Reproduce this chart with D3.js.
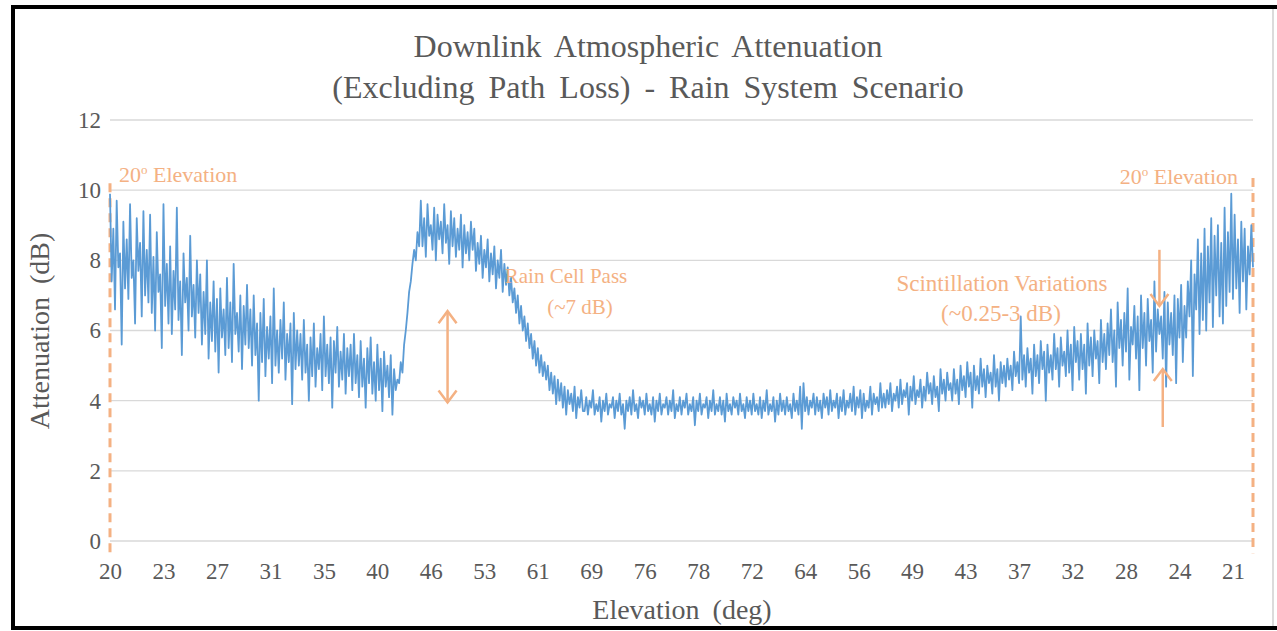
<!DOCTYPE html>
<html>
<head>
<meta charset="utf-8">
<script src="https://cdn.jsdelivr.net/npm/d3@7.9.0/dist/d3.min.js"></script>
<style>
  body { margin: 0; background: #fff; }
</style>
</head>
<body>
<svg id="chart" width="1277" height="631"></svg>
<script>
// Elevation labels along the pass (one label every 32 samples)
const elevationLabels = ['20', '23', '27', '31', '35', '40', '46', '53', '61', '69', '76',
  '78', '72', '64', '56', '49', '43', '37', '32', '28', '24', '21'];
const labelStep = 32;

const yTicks = [0, 2, 4, 6, 8, 10, 12];

// Attenuation samples (dB)
const attenuation = [
  // low elevation, start of pass
  9.9, 7.4, 8.9, 6.6, 9.7, 7.8, 8.2, 5.6, 9.1, 7.2, 8.6, 6.9, 9.6, 7.5, 8.0, 6.2, 9.2, 7.7, 8.5, 6.4, 9.4, 7.0, 8.3, 6.8,
  9.3, 6.5, 8.1, 6.0, 8.8, 7.1, 7.6, 5.5, 9.6, 6.7, 7.9, 6.2, 8.4, 5.9, 7.7, 6.6, 9.5, 6.3, 7.4, 5.3, 8.2, 6.8, 7.5, 6.0, 8.7, 6.4, 7.3, 5.8, 8.0, 6.5,
  7.6, 5.6, 7.1, 5.9, 8.0, 5.2, 6.8, 5.7, 7.4, 5.4, 6.9, 4.8, 7.2, 5.8, 6.6, 5.3, 7.5, 5.5, 6.8, 5.1, 7.9, 5.9, 6.5, 5.4, 7.0, 4.9, 6.7, 5.6, 7.3, 5.5,
  6.6, 5.0, 7.0, 5.3, 6.2, 4.0, 6.5, 5.1, 6.9, 4.7, 6.1, 5.2, 6.4, 4.5, 7.2, 5.0, 6.0, 4.8, 6.3, 5.2, 6.8, 4.6, 5.9, 5.1, 6.2, 3.9, 6.5, 4.9, 6.0, 5.0,
  5.9, 4.6, 6.3, 4.8, 5.6, 4.0, 5.8, 4.7, 6.2, 4.4, 5.5, 4.9, 5.9, 4.3, 6.4, 4.7, 5.6, 4.5, 5.8, 3.8, 5.7, 4.8, 6.1, 4.4, 5.4, 4.6, 5.9, 4.2, 5.5, 4.7,
  5.6, 4.3, 5.9, 4.5, 5.3, 4.1, 5.7, 4.4, 5.2, 3.8, 5.5, 4.5, 5.8, 4.2, 5.1, 4.0, 5.6, 4.3, 5.2, 3.7, 5.4, 4.4, 5.0, 4.1, 5.3, 3.6, 4.9, 4.3,
  // rain cell
  4.6, 4.5, 5.1, 4.8, 5.6, 6.0, 6.5, 7.1, 7.4, 7.9, 8.3, 8.0, 8.8, 8.4,
  9.7, 8.4, 9.2, 8.1, 9.6, 8.7, 9.0, 8.3, 9.5, 8.0, 9.3, 8.6, 9.1, 8.2, 9.6, 8.5, 9.0, 7.9, 9.4, 8.4, 9.2, 8.1, 8.9, 8.3, 9.3, 7.8, 9.0, 8.2, 8.8, 8.0, 9.1, 8.3,
  8.9, 7.7, 8.5, 7.9, 8.7, 7.5, 8.3, 7.8, 8.6, 7.4, 8.2, 7.6, 8.4, 7.2, 8.0, 7.5, 8.3, 7.1, 7.9, 7.3,
  7.8, 7.0, 7.5, 6.8, 7.2, 6.5, 7.0, 6.2, 6.7, 6.0, 6.4, 5.7, 6.2, 5.5, 5.9, 5.2, 5.7, 5.0, 5.5, 4.8, 5.3, 4.7, 5.1, 4.6,
  5.0, 4.3, 4.8, 4.2, 4.7, 3.9, 4.6, 4.0, 4.5, 3.8, 4.4, 3.6, 4.3, 3.9, 4.2, 3.7, 4.4, 3.5, 4.1, 3.8, 4.3, 3.7,
  // high elevation, clear sky
  3.7, 4.1, 3.6, 4.0, 3.8, 4.3, 3.6, 3.9, 3.7, 4.1, 3.4, 4.0, 3.7, 4.2, 3.6, 3.9, 3.8, 4.1, 3.5, 4.0,
  3.7, 4.2, 3.6, 3.9, 3.2, 4.0, 3.7, 4.1, 3.6, 4.3, 3.7, 3.9, 3.5, 4.1, 3.8, 4.0, 3.6, 4.2, 3.7, 3.9,
  3.6, 4.1, 3.4, 4.0, 3.7, 4.2, 3.6, 3.9, 3.8, 4.1, 3.6, 4.0, 3.7, 4.3, 3.5, 3.9, 3.7, 4.1, 3.6, 4.0,
  3.8, 4.2, 3.6, 3.9, 3.7, 4.1, 3.3, 4.0, 3.7, 4.2, 3.6, 3.9, 3.8, 4.1, 3.5, 4.0, 3.7, 4.3, 3.6, 3.9,
  3.7, 4.1, 3.6, 4.0, 3.4, 4.2, 3.7, 3.9, 3.6, 4.1, 3.8, 4.0, 3.6, 4.2, 3.7, 3.9, 3.5, 4.1, 3.7, 4.0,
  3.6, 4.2, 3.7, 3.9, 3.6, 4.1, 3.5, 4.0, 3.7, 4.3, 3.6, 3.9, 3.7, 4.1, 3.4, 4.0, 3.6, 4.2, 3.7, 4.0,
  3.6, 4.1, 3.7, 3.9, 3.5, 4.2, 3.7, 4.0, 3.6, 4.4, 3.2, 4.5, 3.7, 4.1, 3.6, 4.0, 3.8, 4.2, 3.6, 4.1,
  3.7, 4.0, 3.5, 4.2, 3.8, 4.1, 3.6, 4.3, 3.7, 4.0, 3.8, 4.2, 3.5, 4.1, 3.7, 4.3, 3.6, 4.0, 3.8, 4.2,
  3.7, 4.4, 3.6, 4.1, 3.8, 4.3, 3.5, 4.2, 3.7, 4.0, 3.8, 4.4, 3.6, 4.2, 3.9, 4.1, 3.7, 4.5, 3.8, 4.2,
  // descending again, scintillation grows
  3.8, 4.3, 3.9, 4.5, 3.7, 4.2, 4.0, 4.4, 3.8, 4.6, 3.9, 4.3, 4.1, 4.5, 3.6, 4.4, 4.0, 4.7, 3.9, 4.3,
  4.1, 4.6, 3.8, 4.4, 4.0, 4.8, 4.2, 4.5, 3.9, 4.7, 4.1, 4.4, 3.7, 4.9, 4.2, 4.6, 4.0, 4.8, 4.3, 4.5,
  4.0, 4.9, 4.2, 4.6, 3.9, 5.0, 4.3, 4.7, 4.1, 5.1, 4.4, 4.8, 3.8, 5.0, 4.3, 4.7, 4.2, 5.2, 4.4, 4.9,
  4.1, 5.0, 4.5, 4.8, 4.2, 5.3, 4.4, 4.9, 4.0, 5.1, 4.5, 5.0,
  4.4, 5.2, 4.6, 5.0, 4.3, 5.4, 4.7, 5.1, 4.5, 6.4, 4.6, 5.3, 4.4, 5.5, 4.8, 5.2, 4.2, 5.6, 4.7, 5.3,
  4.5, 5.7, 4.9, 5.4, 4.0, 5.6, 4.8, 5.3, 4.6, 5.9, 4.9, 5.5, 4.4, 5.8, 5.0, 5.4, 4.7, 6.0, 4.8, 5.6,
  4.3, 6.1, 5.1, 5.7, 4.6, 5.9, 4.9, 5.6, 4.2, 6.2, 5.0, 5.8, 4.7, 6.0, 5.2, 5.7, 4.5, 6.3, 5.1, 5.9,
  4.9, 6.2, 5.3, 6.6, 5.1, 6.0, 4.4, 6.8, 5.5, 6.3, 5.0, 6.5, 5.4, 7.2, 4.6, 6.1, 5.6, 6.7, 5.2, 6.4,
  4.3, 7.0, 5.5, 6.5, 5.0, 6.9, 5.7, 6.3, 4.8, 7.4, 5.4, 6.6, 5.9, 6.4, 5.2, 7.1, 4.4, 6.8, 5.6, 6.5,
  5.3, 7.0, 4.5, 6.9, 5.8, 7.3, 5.1, 6.7,
  5.8, 7.4, 6.4, 8.0, 4.7, 7.6, 6.6, 8.6, 5.9, 8.2, 6.3, 8.9, 6.0, 8.4, 6.8, 9.2, 6.1, 8.7, 7.0, 9.0,
  6.4, 8.5, 6.2, 9.5, 6.7, 8.8, 7.1, 9.9, 6.9, 9.3, 7.2, 8.6, 6.5, 9.1, 7.4, 8.9, 6.6, 8.4, 7.6, 9.0, 7.8
];

// Annotation anchors in data units (sample index, dB)
const rainArrow = { i: 202, y0: 6.55, y1: 3.95 };
const downArrow = { i: 628, y0: 8.3, y1: 6.7 };
const upArrow = { i: 630, y0: 3.25, y1: 4.9 };

const orange = '#F4B183';
const grey = '#595959';
const font = "'Liberation Serif', 'Times New Roman', serif";

const svg = d3.select('#chart');

// Outer frame
svg.append('rect').attr('x', 0).attr('y', 0).attr('width', 1277).attr('height', 631).attr('fill', '#fff');
svg.append('line').attr('x1', 1273).attr('x2', 1273).attr('y1', 7).attr('y2', 628).attr('stroke', '#cfcfcf').attr('stroke-width', 1.5);
svg.append('path').attr('d', 'M1277,7H13V628H1277').attr('fill', 'none').attr('stroke', '#000').attr('stroke-width', 4);

const x = d3.scaleLinear().domain([0, attenuation.length - 1]).range([110, 1253]);
const y = d3.scaleLinear().domain([0, 12]).range([541, 120]);

// Gridlines
svg.append('g')
  .selectAll('line')
  .data(yTicks)
  .join('line')
  .attr('x1', x(0)).attr('x2', x(attenuation.length - 1))
  .attr('y1', (d) => y(d)).attr('y2', (d) => y(d))
  .attr('stroke', '#d9d9d9').attr('stroke-width', 1.3);

// Y axis labels
const yAxis = svg.append('g')
  .attr('transform', `translate(${x(0)},0)`)
  .call(d3.axisLeft(y).tickValues(yTicks).tickSize(0).tickPadding(9));
yAxis.select('.domain').remove();
yAxis.attr('font-family', font);
yAxis.selectAll('text').attr('font-size', 23).attr('fill', grey);

// X axis labels
const xAxis = svg.append('g')
  .attr('transform', `translate(0,${y(0)})`)
  .call(d3.axisBottom(x)
    .tickValues(elevationLabels.map((_, i) => i * labelStep))
    .tickFormat((d) => elevationLabels[d / labelStep])
    .tickSize(0).tickPadding(22));
xAxis.select('.domain').remove();
xAxis.attr('font-family', font);
xAxis.selectAll('text').attr('font-size', 23).attr('fill', grey);

// Dashed 20 deg markers
svg.append('line')
  .attr('x1', x(0)).attr('x2', x(0)).attr('y1', y(10.2)).attr('y2', y(-0.35))
  .attr('stroke', orange).attr('stroke-width', 3).attr('stroke-dasharray', '9,6');
svg.append('line')
  .attr('x1', x(attenuation.length - 1)).attr('x2', x(attenuation.length - 1))
  .attr('y1', y(10.35)).attr('y2', y(-0.35))
  .attr('stroke', orange).attr('stroke-width', 3).attr('stroke-dasharray', '9,6');

// Attenuation trace
const line = d3.line().x((d, i) => x(i)).y((d) => y(d));
svg.append('path')
  .datum(attenuation)
  .attr('d', line)
  .attr('fill', 'none')
  .attr('stroke', '#5B9BD5')
  .attr('stroke-width', 1.8)
  .attr('stroke-linejoin', 'round');

// Arrows
function arrowHead(px, py, dir) {
  // dir = +1 points down, -1 points up
  return `M${px - 9},${py - dir * 12}L${px},${py}L${px + 9},${py - dir * 12}`;
}
function drawArrow(a, both) {
  const px = x(a.i);
  const p0 = y(a.y0), p1 = y(a.y1);
  const dir = p1 > p0 ? 1 : -1;
  svg.append('line').attr('x1', px).attr('x2', px).attr('y1', p0).attr('y2', p1)
    .attr('stroke', orange).attr('stroke-width', 2.5);
  svg.append('path').attr('d', arrowHead(px, p1, dir))
    .attr('fill', 'none').attr('stroke', orange).attr('stroke-width', 2.5);
  if (both) {
    svg.append('path').attr('d', arrowHead(px, p0, -dir))
      .attr('fill', 'none').attr('stroke', orange).attr('stroke-width', 2.5);
  }
}
drawArrow(rainArrow, true);
drawArrow(downArrow, false);
drawArrow(upArrow, false);

// Annotation text
function note(txt, tx, ty, anchor, size) {
  return svg.append('text').attr('x', tx).attr('y', ty).attr('font-family', font)
    .attr('text-anchor', anchor).attr('font-size', size).attr('fill', orange).text(txt);
}
function elevationNote(tx, ty, anchor) {
  const t = svg.append('text').attr('x', tx).attr('y', ty).attr('font-family', font)
    .attr('font-size', 22).attr('fill', orange).attr('text-anchor', anchor);
  t.append('tspan').text('20');
  t.append('tspan').attr('font-size', 13).attr('dy', -8).text('o');
  t.append('tspan').attr('dy', 8).text(' Elevation');
}
elevationNote(119, 182, 'start');
elevationNote(1238, 184, 'end');

note('Rain Cell Pass', 566, 283, 'middle', 21);
note('(~7 dB)', 580, 314, 'middle', 21);
note('Scintillation Variations', 1002, 291, 'middle', 23);
note('(~0.25-3 dB)', 1001, 321, 'middle', 23);

// Titles
function label(txt, tx, ty, size) {
  return svg.append('text').attr('x', tx).attr('y', ty).attr('text-anchor', 'middle')
    .attr('font-family', font).attr('font-size', size).attr('fill', grey)
    .attr('word-spacing', 6).text(txt);
}
label('Downlink Atmospheric Attenuation', 648, 57, 32);
label('(Excluding Path Loss) - Rain System Scenario', 648, 98, 32);
label('Elevation (deg)', 682, 619, 28);
label('Attenuation (dB)', 0, 0, 28).attr('transform', 'translate(49,331) rotate(-90)');
</script>
</body>
</html>
